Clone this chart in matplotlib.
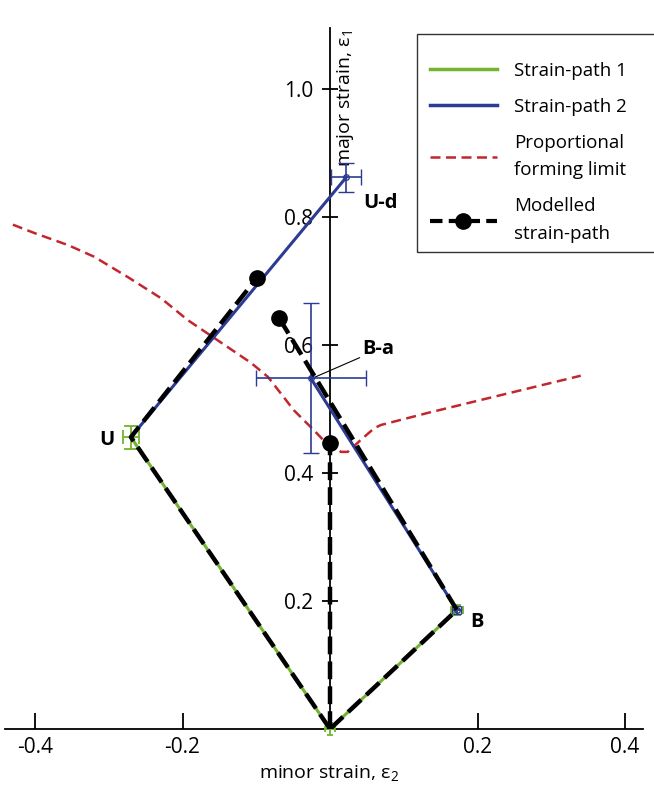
import numpy as np
import matplotlib.pyplot as plt
from matplotlib.lines import Line2D
from matplotlib.patches import Rectangle
from matplotlib.legend_handler import HandlerLine2D

plt.rcParams['font.family'] = ['Open Sans', 'DejaVu Sans']
plt.rcParams['mathtext.fontset'] = 'custom'
plt.rcParams['mathtext.rm'] = 'Open Sans'

GREEN = '#72b32f'
BLUE = '#2c3b93'
RED = '#c1272d'

# strain-path 1: U <- origin -> B
sp1_x = [-0.270, 0.0, 0.172]
sp1_y = [0.456, 0.0, 0.186]
# strain-path 2: U -> U-d and B -> B-a
sp2_ud_x = [-0.270, 0.022]
sp2_ud_y = [0.456, 0.862]
sp2_ba_x = [0.172, -0.026]
sp2_ba_y = [0.186, 0.548]

# proportional forming limit
fl_x = [-0.430, -0.401, -0.355, -0.320, -0.274, -0.229, -0.193, -0.157, -0.107,
        -0.084, -0.049, -0.022, -0.003, 0.015, 0.024, 0.042, 0.060, 0.069,
        0.133, 0.222, 0.340]
fl_y = [0.788, 0.775, 0.756, 0.738, 0.706, 0.673, 0.639, 0.611, 0.572,
        0.550, 0.498, 0.467, 0.444, 0.433, 0.433, 0.452, 0.470, 0.475,
        0.494, 0.519, 0.552]

# modelled strain-paths
mod1_x = [0.0, -0.270, -0.099]
mod1_y = [0.0, 0.456, 0.705]
mod2_x = [0.0, 0.0]
mod2_y = [0.0, 0.447]
mod3_x = [0.0, 0.172, -0.069]
mod3_y = [0.0, 0.186, 0.642]

# measured points with scatter (x, y, xerr, yerr, capsize)
green_pts = [(-0.270, 0.456, 0.011, 0.018, 5), (0.172, 0.186, 0.008, 0.008, 3),
             (0.0, 0.0, 0.007, 0.010, 2)]
blue_pts = [(0.022, 0.862, 0.020, 0.023, 5.5), (-0.026, 0.548, 0.075, 0.117, 5.5),
            (0.172, 0.186, 0.006, 0.006, 3)]

point_labels = ['U', 'B', 'U-d']
point_label_xy = [(-0.302, 0.452), (0.199, 0.167), (0.069, 0.822)]

fig = plt.figure(figsize=(6.54, 7.92), dpi=100)
ax = fig.add_axes([5 / 654, 63 / 792, 638 / 654, 701 / 792])
ax.set_xlim(-0.4407, 0.4244)
ax.set_ylim(0, 1.0953)

ax.spines['top'].set_visible(False)
ax.spines['right'].set_visible(False)
ax.spines['left'].set_position(('data', 0))
for s in ['left', 'bottom']:
    ax.spines[s].set_linewidth(1.3)

ax.set_xticks([-0.4, -0.2, 0.2, 0.4])
ax.set_xticklabels(['-0.4', '-0.2', '0.2', '0.4'])
ax.set_yticks([0.2, 0.4, 0.6, 0.8, 1.0])
ax.set_yticklabels(['0.2', '0.4', '0.6', '0.8', '1.0'])
ax.tick_params(axis='x', direction='in', length=11.5, width=1.3, labelsize=15, pad=6)
ax.tick_params(axis='y', direction='inout', length=12, width=1.3, labelsize=15, pad=6)

ax.plot(fl_x, fl_y, color=RED, lw=1.8, dashes=(4, 2.2), zorder=2)

ax.plot(sp1_x, sp1_y, color=GREEN, lw=2.2, zorder=3)
ax.plot(sp2_ud_x, sp2_ud_y, color=BLUE, lw=2.2, zorder=3)
ax.plot(sp2_ba_x, sp2_ba_y, color=BLUE, lw=2.2, zorder=3)

for x, y, xe, ye, cs in green_pts:
    ax.errorbar(x, y, xerr=xe, yerr=ye, color=GREEN, lw=1.3, capsize=cs,
                capthick=1.3, zorder=3, clip_on=False)
for x, y, xe, ye, cs in blue_pts:
    ax.errorbar(x, y, xerr=xe, yerr=ye, color=BLUE, lw=1.2, capsize=cs,
                capthick=1.2, marker='o', ms=4, mfc='none', mew=1, zorder=4,
                clip_on=False)

for mx, my in [(mod1_x, mod1_y), (mod2_x, mod2_y), (mod3_x, mod3_y)]:
    ax.plot(mx, my, color='black', lw=3.2, dashes=(4, 1.6), marker='o', ms=11,
            markevery=[len(mx) - 1], zorder=5)

for lab, (x, y) in zip(point_labels, point_label_xy):
    ax.text(x, y, lab, fontsize=14.5, fontweight='bold', ha='center', va='center')

ax.annotate('B-a', xy=(-0.024, 0.548), xytext=(0.044, 0.593), fontsize=14.5,
            fontweight='bold', ha='left', va='center',
            arrowprops=dict(arrowstyle='-', color='black', lw=0.8,
                            shrinkA=0, shrinkB=0))

fig.text(329 / 654, 1 - 774 / 792, r'minor strain, ε$_{2}$',
         fontsize=14, ha='center', va='center')
ax.text(0.021, 0.985, r'major strain, ε$_{1}$', fontsize=14, rotation=90,
        ha='center', va='center')


class EndMarkerHandler(HandlerLine2D):
    def get_xdata(self, legend, xdescent, ydescent, width, height, fontsize):
        xdata = [-xdescent, -xdescent + width]
        return xdata, [-xdescent + width]


# legend frame (runs off the right edge of the figure)
fig.patches.append(Rectangle((417 / 654, 1 - 252 / 792), 0.5, 218 / 792,
                             transform=fig.transFigure, fill=False,
                             edgecolor='#333333', lw=1.0))

handles = [
    Line2D([], [], color=GREEN, lw=2.5),
    Line2D([], [], color=BLUE, lw=2.5),
    Line2D([], [], color=RED, lw=1.8, dashes=(4, 2.2)),
    Line2D([], [], color='black', lw=3, dashes=(3, 1.5), marker='o', ms=11),
]
labels = ['Strain-path 1', 'Strain-path 2', 'Proportional\nforming limit',
          'Modelled\nstrain-path']
leg = fig.legend(handles, labels, loc='upper left',
                 bbox_to_anchor=(430 / 654, 1 - 62 / 792), fontsize=13.5,
                 handlelength=3.55, handletextpad=0.95, labelspacing=0.95,
                 borderpad=0, borderaxespad=0, frameon=False,
                 handler_map={handles[3]: EndMarkerHandler()})
for t in leg.get_texts():
    t.set_linespacing(1.7)

fig.savefig('out.png', dpi=100)
